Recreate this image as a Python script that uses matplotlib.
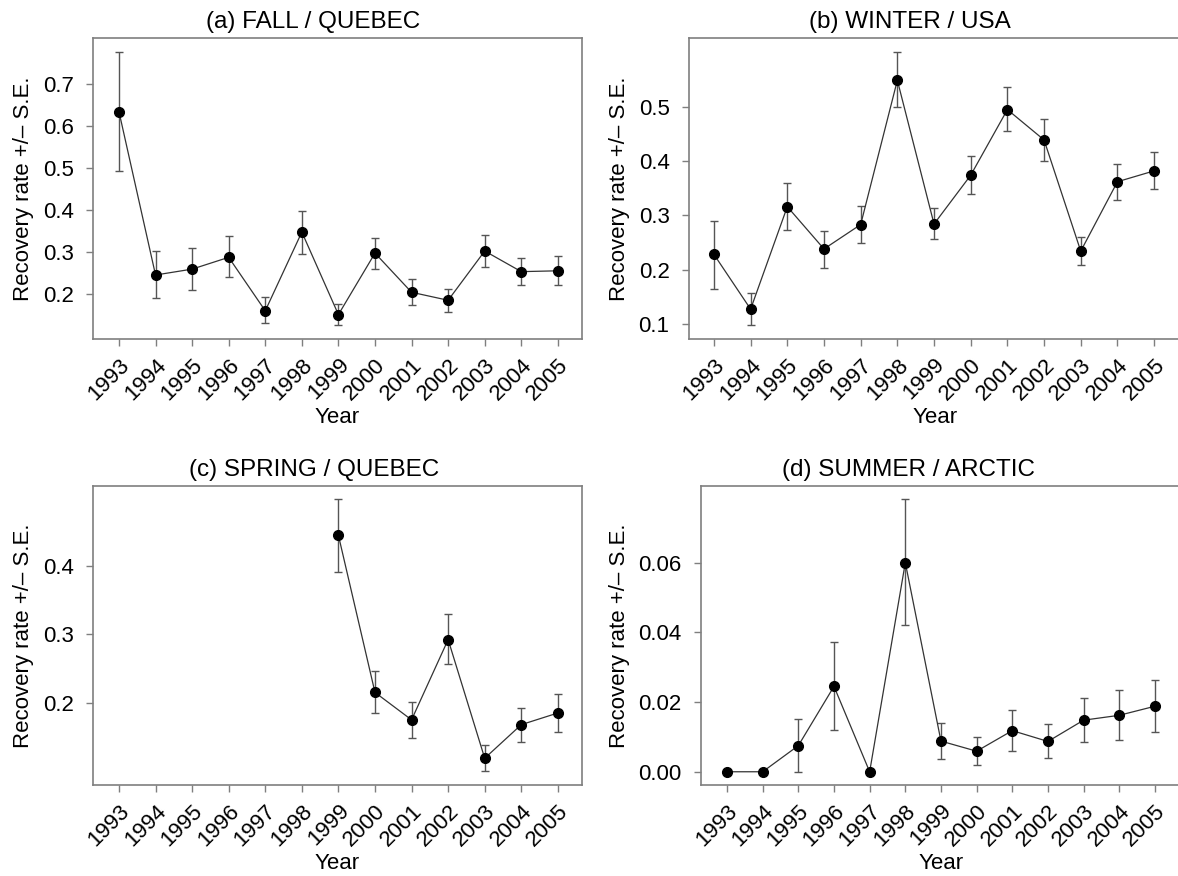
import numpy as np
import matplotlib
matplotlib.use("Agg")
import matplotlib.pyplot as plt

plt.rcParams['font.family'] = ['Liberation Sans', 'DejaVu Sans']

years = list(range(1993, 2006))

# (a) FALL / QUEBEC
fall_rate = [0.634, 0.246, 0.260, 0.288, 0.161, 0.348, 0.152, 0.298, 0.205, 0.186, 0.303, 0.254, 0.256]
fall_low = [0.494, 0.192, 0.210, 0.242, 0.131, 0.296, 0.127, 0.260, 0.175, 0.158, 0.266, 0.222, 0.222]
fall_high = [0.775, 0.302, 0.309, 0.338, 0.194, 0.399, 0.177, 0.334, 0.236, 0.213, 0.340, 0.287, 0.290]

# (b) WINTER / USA
winter_rate = [0.228, 0.127, 0.316, 0.238, 0.283, 0.549, 0.284, 0.374, 0.495, 0.439, 0.234, 0.362, 0.382]
winter_low = [0.164, 0.097, 0.273, 0.203, 0.249, 0.499, 0.256, 0.340, 0.456, 0.400, 0.209, 0.328, 0.348]
winter_high = [0.290, 0.156, 0.360, 0.272, 0.317, 0.601, 0.313, 0.409, 0.536, 0.478, 0.260, 0.394, 0.417]

# (c) SPRING / QUEBEC (no data before 1999)
nan = np.nan
spring_rate = [nan, nan, nan, nan, nan, nan, 0.444, 0.215, 0.175, 0.292, 0.119, 0.168, 0.185]
spring_low = [nan, nan, nan, nan, nan, nan, 0.391, 0.185, 0.149, 0.256, 0.100, 0.143, 0.158]
spring_high = [nan, nan, nan, nan, nan, nan, 0.497, 0.246, 0.201, 0.329, 0.138, 0.193, 0.212]

# (d) SUMMER / ARCTIC
summer_rate = [0.0, 0.0, 0.0075, 0.0245, 0.0, 0.0600, 0.0088, 0.0059, 0.0118, 0.0087, 0.0148, 0.0162, 0.0188]
summer_low = [0.0, 0.0, 0.0, 0.0119, 0.0, 0.0421, 0.0038, 0.0019, 0.0061, 0.0039, 0.0084, 0.0091, 0.0115]
summer_high = [0.0, 0.0, 0.0151, 0.0371, 0.0, 0.0782, 0.0140, 0.0099, 0.0178, 0.0136, 0.0211, 0.0235, 0.0264]

W, H = 1178, 876
fig = plt.figure(figsize=(W / 100, H / 100), dpi=100)


def px_axes(left, top, right, bottom):
    return fig.add_axes([left / W, 1 - bottom / H, (right - left) / W, (bottom - top) / H])


panels = [
    dict(box=(93, 38, 582, 339), title="(a) FALL / QUEBEC", tx=0.45, rate=fall_rate, low=fall_low, high=fall_high,
         xlim=(1992.29, 2005.66), ylim=(0.094, 0.809), yticks=[0.2, 0.3, 0.4, 0.5, 0.6, 0.7], fmt="{:.1f}"),
    dict(box=(689, 38, 1182, 339), title="(b) WINTER / USA", tx=0.448, rate=winter_rate, low=winter_low, high=winter_high,
         xlim=(1992.32, 2005.76), ylim=(0.072, 0.627), yticks=[0.1, 0.2, 0.3, 0.4, 0.5], fmt="{:.1f}"),
    dict(box=(93, 486, 582, 785), title="(c) SPRING / QUEBEC", tx=0.452, rate=spring_rate, low=spring_low, high=spring_high,
         xlim=(1992.29, 2005.66), ylim=(0.080, 0.516), yticks=[0.2, 0.3, 0.4], fmt="{:.1f}"),
    dict(box=(701, 486, 1182, 785), title="(d) SUMMER / ARCTIC", tx=0.432, rate=summer_rate, low=summer_low, high=summer_high,
         xlim=(1992.27, 2005.76), ylim=(-0.0038, 0.082), yticks=[0.0, 0.02, 0.04, 0.06], fmt="{:.2f}"),
]

for p in panels:
    ax = px_axes(*p["box"])
    rate = np.array(p["rate"])
    yerr = [rate - np.array(p["low"]), np.array(p["high"]) - rate]

    # error bars first, then the line and the dots on top
    ax.errorbar(years, rate, yerr=yerr, fmt="none", ecolor="#555555", elinewidth=1.0,
                capsize=3, capthick=1.0, zorder=2)
    ax.plot(years, rate, color="#333333", linewidth=0.9, zorder=3)
    ax.plot(years, rate, "o", color="black", markersize=7, zorder=4)

    ax.set_xlim(*p["xlim"])
    ax.set_ylim(*p["ylim"])
    ax.set_xticks(years)
    ax.set_xticklabels([str(y) for y in years], rotation=45, ha="right", va="top",
                       rotation_mode="anchor", fontsize=16)
    ax.set_yticks(p["yticks"])
    ax.set_yticklabels([p["fmt"].format(v) for v in p["yticks"]], fontsize=16)

    for s in ax.spines.values():
        s.set_color("#7f7f7f")
        s.set_linewidth(1.2)
    ax.tick_params(axis="both", color="#7f7f7f", length=5, width=1.0)
    ax.tick_params(axis="x", pad=6)
    ax.tick_params(axis="y", pad=9)

    ax.set_title(p["title"], x=p["tx"], fontsize=17.5, pad=7)
    ax.set_xlabel("Year", fontsize=16, labelpad=2)
    ax.set_ylabel("Recovery rate +/\u2013 S.E.", fontsize=16, labelpad=6)

fig.savefig("out.png", dpi=100)
